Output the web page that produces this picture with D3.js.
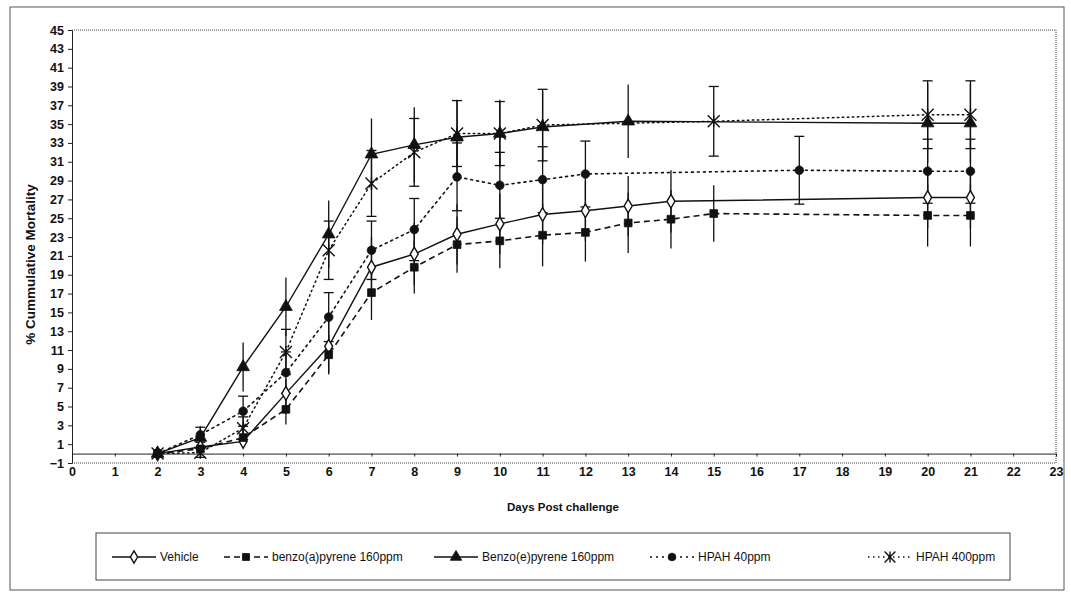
<!DOCTYPE html>
<html>
<head>
<meta charset="utf-8">
<script src="https://cdn.jsdelivr.net/npm/d3@7"></script>
<style>
  body { margin: 0; background: #fff; }
  svg text { font-family: "Liberation Sans", Arial, sans-serif; fill: #111; }
  .axis text { font-size: 12.5px; font-weight: bold; }
  .axis path, .axis line { stroke: #222; }
  .axis-title { font-weight: bold; }
  .legend text { font-size: 12px; }
</style>
</head>
<body>
<svg id="chart" width="1071" height="600"></svg>
<script>
// values (% cumulative mortality, +/- error)
const vehicleDays = [2, 3, 4, 5, 6, 7, 8, 9, 10, 11, 12, 13, 14, 20, 21];
const vehicleVals = [0, 0.7, 1.3, 6.4, 11.4, 19.8, 21.2, 23.3, 24.4, 25.4, 25.8, 26.3, 26.8, 27.2, 27.2];
const vehicleErr  = [0, 0.4, 0.7, 1.5, 2.8, 3.2, 3.3, 3.2, 3.2, 3.2, 3.2, 3.2, 3.3, 3.3, 3.3];

const benzoADays = [2, 3, 4, 5, 6, 7, 8, 9, 10, 11, 12, 13, 14, 15, 20, 21];
const benzoAVals = [0, 0.5, 1.7, 4.7, 10.5, 17.1, 19.8, 22.2, 22.6, 23.2, 23.5, 24.5, 24.9, 25.5, 25.3, 25.3];
const benzoAErr  = [0, 0.3, 0.8, 1.6, 2.1, 2.9, 2.8, 3.0, 2.9, 3.3, 3.1, 3.2, 3.1, 3.0, 3.3, 3.3];

const benzoEDays = [2, 3, 4, 5, 6, 7, 8, 9, 10, 11, 13, 20, 21];
const benzoEVals = [0, 1.7, 9.2, 15.6, 23.3, 31.8, 32.8, 33.6, 34.0, 34.7, 35.3, 35.1, 35.1];
const benzoEErr  = [0, 1.2, 2.6, 3.1, 3.6, 3.8, 4.0, 4.0, 3.6, 3.8, 3.9, 4.2, 4.2];

const hpah40Days = [2, 3, 4, 5, 6, 7, 8, 9, 10, 11, 12, 17, 20, 21];
const hpah40Vals = [0, 2.0, 4.5, 8.6, 14.5, 21.6, 23.8, 29.4, 28.5, 29.1, 29.7, 30.1, 30.0, 30.0];
const hpah40Err  = [0, 0.8, 1.6, 2.2, 2.6, 3.1, 3.3, 3.6, 3.5, 3.5, 3.5, 3.6, 3.4, 3.4];

const hpah400Days = [2, 3, 4, 5, 6, 7, 8, 9, 10, 11, 15, 20, 21];
const hpah400Vals = [0, 0.1, 2.7, 10.8, 21.6, 28.7, 32.0, 34.0, 34.0, 34.9, 35.3, 36.0, 36.0];
const hpah400Err  = [0, 0.5, 1.2, 2.4, 3.1, 3.5, 3.6, 3.5, 3.4, 3.8, 3.7, 3.6, 3.6];

const seriesNames = ["Vehicle", "benzo(a)pyrene 160ppm", "Benzo(e)pyrene 160ppm", "HPAH 40ppm", "HPAH 400ppm"];
const xTicks = d3.range(0, 24);
const yTicks = d3.range(-1, 46, 2);

// style per series
const styles = [
  {marker: "diamond", dash: null, width: 1.4, caps: false},
  {marker: "square", dash: "6,4", width: 1.6, caps: false},
  {marker: "triangle", dash: null, width: 1.4, caps: false},
  {marker: "circle", dash: "2,4", width: 1.6, caps: true},
  {marker: "star", dash: "1.5,3.5", width: 1.5, caps: true}
];

const rawDays = [vehicleDays, benzoADays, benzoEDays, hpah40Days, hpah400Days];
const rawVals = [vehicleVals, benzoAVals, benzoEVals, hpah40Vals, hpah400Vals];
const rawErr  = [vehicleErr, benzoAErr, benzoEErr, hpah40Err, hpah400Err];

const series = seriesNames.map((name, i) => ({
  name: name,
  style: styles[i],
  points: rawDays[i].map((d, j) => ({day: d, val: rawVals[i][j], err: rawErr[i][j]}))
}));

const svg = d3.select("#chart");

// outer frame of the figure
svg.append("rect")
  .attr("x", 10).attr("y", 7).attr("width", 1054).attr("height", 583)
  .attr("fill", "none").attr("stroke", "#555").attr("stroke-width", 1);

const x = d3.scaleLinear().domain([0, 23]).range([72, 1056]);
const y = d3.scaleLinear().domain([-1, 45]).range([463, 30]);

// plot area border (dotted, like the scan)
const border = svg.append("g").attr("stroke", "#444").attr("stroke-width", 1).attr("stroke-dasharray", "1,1");
border.append("line").attr("x1", x(0)).attr("x2", x(23)).attr("y1", y(45)).attr("y2", y(45));
border.append("line").attr("x1", x(23)).attr("x2", x(23)).attr("y1", y(45)).attr("y2", y(-1));
border.append("line").attr("x1", x(0)).attr("x2", x(23)).attr("y1", y(-1)).attr("y2", y(-1));

// axes
const yAxis = d3.axisLeft(y).tickValues(yTicks).tickSize(4).tickSizeOuter(0).tickPadding(4);
svg.append("g").attr("class", "axis y-axis")
  .attr("transform", `translate(${x(0)},0)`)
  .call(yAxis);

const xAxis = d3.axisBottom(x).tickValues(xTicks).tickSize(3).tickSizeOuter(0).tickPadding(11);
svg.append("g").attr("class", "axis x-axis")
  .attr("transform", `translate(0,${y(0)})`)
  .call(xAxis);

svg.append("text").attr("class", "axis-title")
  .attr("transform", `translate(35,${(y(45) + y(-1)) / 2 + 18}) rotate(-90)`)
  .attr("text-anchor", "middle")
  .style("font-size", "13.5px")
  .text("% Cummulative Mortality");

svg.append("text").attr("class", "axis-title")
  .attr("x", 563).attr("y", 511)
  .attr("text-anchor", "middle")
  .style("font-size", "11.5px")
  .text("Days Post challenge");

// marker drawing
function drawMarker(g, type, cx, cy, scale) {
  const s = scale || 1;
  if (type === "star") {
    const r = 6 * s;
    const p = `M${cx - r},${cy - r}L${cx + r},${cy + r}M${cx - r},${cy + r}L${cx + r},${cy - r}M${cx},${cy - r}L${cx},${cy + r}`;
    g.append("path").attr("d", p).attr("stroke", "#111").attr("stroke-width", 1.4).attr("fill", "none");
    return;
  }
  const sym = {diamond: d3.symbolDiamond, square: d3.symbolSquare, triangle: d3.symbolTriangle, circle: d3.symbolCircle}[type];
  const size = {diamond: 55, square: 60, triangle: 70, circle: 58}[type] * s * s;
  g.append("path")
    .attr("d", d3.symbol().type(sym).size(size)())
    .attr("transform", `translate(${cx},${cy})`)
    .attr("fill", type === "diamond" ? "#fff" : "#111")
    .attr("stroke", "#111")
    .attr("stroke-width", type === "diamond" ? 1.4 : 0.8);
}

const line = d3.line().x(d => x(d.day)).y(d => y(d.val));

const plot = svg.append("g");

// lines
series.forEach(s => {
  plot.append("path")
    .datum(s.points)
    .attr("d", line)
    .attr("fill", "none")
    .attr("stroke", "#111")
    .attr("stroke-width", s.style.width)
    .attr("stroke-dasharray", s.style.dash)
    .attr("stroke-linecap", s.style.dash === "2,4" || s.style.dash === "1.5,3.5" ? "round" : "butt");
});

// error bars
series.forEach(s => {
  const g = plot.append("g").attr("stroke", "#111").attr("stroke-width", 1.3);
  s.points.filter(p => p.err > 0).forEach(p => {
    const cx = x(p.day);
    g.append("line").attr("x1", cx).attr("x2", cx)
      .attr("y1", y(p.val - p.err)).attr("y2", y(p.val + p.err));
    if (s.style.caps) {
      [p.val - p.err, p.val + p.err].forEach(v => {
        g.append("line").attr("x1", cx - 5).attr("x2", cx + 5).attr("y1", y(v)).attr("y2", y(v));
      });
    }
  });
});

// markers
series.forEach(s => {
  const g = plot.append("g");
  s.points.forEach(p => drawMarker(g, s.style.marker, x(p.day), y(p.val)));
});

// legend
const legend = svg.append("g").attr("class", "legend");
legend.append("rect")
  .attr("x", 96).attr("y", 533).attr("width", 914).attr("height", 47)
  .attr("fill", "none").attr("stroke", "#444").attr("stroke-width", 1);

const legendX = [112, 224, 434, 650, 868];
series.forEach((s, i) => {
  const lx = legendX[i], ly = 557;
  legend.append("line")
    .attr("x1", lx).attr("x2", lx + 44).attr("y1", ly).attr("y2", ly)
    .attr("stroke", "#111").attr("stroke-width", s.style.width)
    .attr("stroke-dasharray", s.style.dash);
  drawMarker(legend, s.style.marker, lx + 22, ly, 0.9);
  legend.append("text")
    .attr("x", lx + 48).attr("y", ly + 4)
    .text(s.name);
});
</script>
</body>
</html>
